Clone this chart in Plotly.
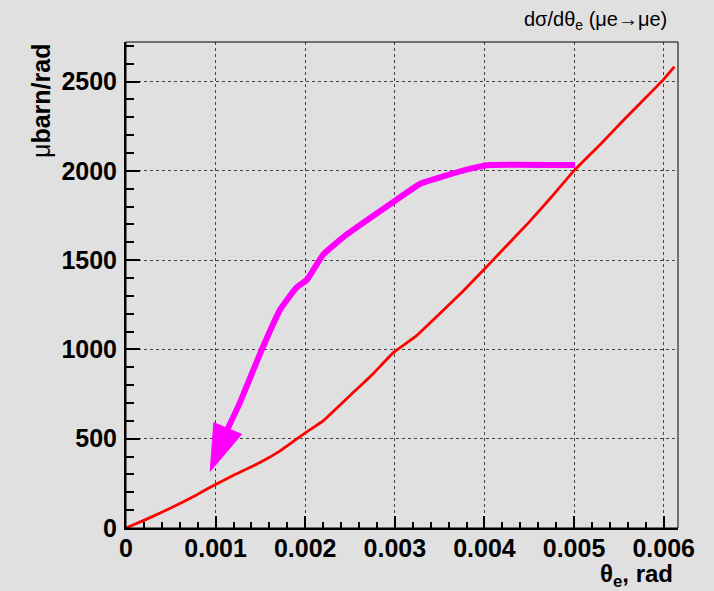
import plotly.graph_objects as go

# ---- data ----
theta_e = [0.0, 0.00025, 0.0005, 0.00077, 0.00094, 0.0012, 0.0015, 0.00172, 0.002, 0.0022,
           0.0025, 0.00275, 0.00298, 0.00324, 0.0035, 0.00376, 0.0041, 0.00449, 0.00475,
           0.00501, 0.00529, 0.0055, 0.00575, 0.006, 0.00612]
dsigma = [0, 54, 112, 180, 228, 295, 368, 432, 533, 600,
          742, 860, 981, 1076, 1200, 1326, 1503, 1709, 1855,
          2007, 2147, 2257, 2385, 2513, 2584]

# hand-drawn magenta arrow (annotation path)
arrow_x = [0.00501, 0.00406, 0.0038, 0.00328, 0.00302, 0.00246, 0.0022, 0.00202, 0.0019,
           0.00172, 0.0015, 0.00127, 0.00113]
arrow_y = [2033, 2033, 2007, 1927, 1839, 1643, 1531, 1391, 1345,
           1223, 981, 701, 551]
head_x = [0.00094, 0.00098, 0.00129, 0.00094]
head_y = [318, 590, 525, 318]

x_tickvals = [0, 0.001, 0.002, 0.003, 0.004, 0.005, 0.006]
x_ticktext = ["0", "0.001", "0.002", "0.003", "0.004", "0.005", "0.006"]
y_tickvals = [0, 500, 1000, 1500, 2000, 2500]
y_ticktext = ["0", "500", "1000", "1500", "2000", "2500"]

BG = "#e0e0e0"
FONT = "Liberation Sans"
W, H = 714, 591
ML, MR, MT, MB = 126, 36, 42, 63

fig = go.Figure()
fig.add_trace(go.Scatter(x=theta_e, y=dsigma, mode="lines",
                         line=dict(color="#ff0000", width=2.8, shape="spline", smoothing=0.3),
                         showlegend=False, hoverinfo="skip"))
fig.add_trace(go.Scatter(x=arrow_x, y=arrow_y, mode="lines",
                         line=dict(color="#ff00ff", width=6, shape="spline", smoothing=0.4),
                         showlegend=False, hoverinfo="skip"))
fig.add_trace(go.Scatter(x=head_x, y=head_y, mode="lines", fill="toself",
                         fillcolor="#ff00ff", line=dict(color="#ff00ff", width=1),
                         showlegend=False, hoverinfo="skip"))

axis_common = dict(
    showgrid=True, gridcolor="#444444", griddash="dot", gridwidth=1,
    showline=True, linecolor="black", linewidth=2, mirror=False,
    ticks="inside", tickcolor="black", tickwidth=2,
    tickfont=dict(family=FONT, size=25, color="black", weight="bold"),
    zeroline=False, layer="above traces",
)

fig.update_xaxes(**axis_common, range=[0, 0.00616], tickvals=x_tickvals, ticktext=x_ticktext,
                 ticklen=12, ticklabelstandoff=-3,
                 minor=dict(ticks="inside", ticklen=6, dtick=0.0002, tick0=0,
                            tickcolor="black", tickwidth=2, showgrid=False))
fig.update_yaxes(**axis_common, range=[0, 2722], tickvals=y_tickvals, ticktext=y_ticktext,
                 ticklen=14, ticklabelstandoff=2,
                 minor=dict(ticks="inside", ticklen=8, dtick=100, tick0=0,
                            tickcolor="black", tickwidth=2, showgrid=False))

# thin frame on top/right
fig.add_shape(type="rect", xref="paper", yref="paper", x0=0, y0=0, x1=1, y1=1,
              line=dict(color="black", width=1), layer="above")


def px_to_paper(px, py):
    return ((px - ML) / (W - ML - MR), ((H - MB) - py) / (H - MT - MB))


tx, ty = px_to_paper(669, 20)
fig.add_annotation(text="dσ/dθ<sub>e</sub> (μe→μe)", xref="paper", yref="paper",
                   x=tx, y=ty, xanchor="right", yanchor="middle",
                   showarrow=False, font=dict(family=FONT, size=20, color="black"))
tx, ty = px_to_paper(675, 593)
fig.add_annotation(text="<b>θ<sub>e</sub>, rad</b>", xref="paper", yref="paper",
                   x=tx, y=ty, xanchor="right", yanchor="bottom",
                   showarrow=False, font=dict(family=FONT, size=24, color="black"))
tx, ty = px_to_paper(41, 42)
fig.add_annotation(text="μ<b>barn/rad</b>", xref="paper", yref="paper",
                   x=tx, y=ty, xanchor="center", yanchor="top",
                   textangle=-90, showarrow=False,
                   font=dict(family=FONT, size=25, color="black"))

fig.update_layout(
    width=W, height=H,
    margin=dict(l=ML, r=MR, t=MT, b=MB, autoexpand=False),
    paper_bgcolor=BG, plot_bgcolor=BG,
    showlegend=False,
)

fig.write_html("out.html")
